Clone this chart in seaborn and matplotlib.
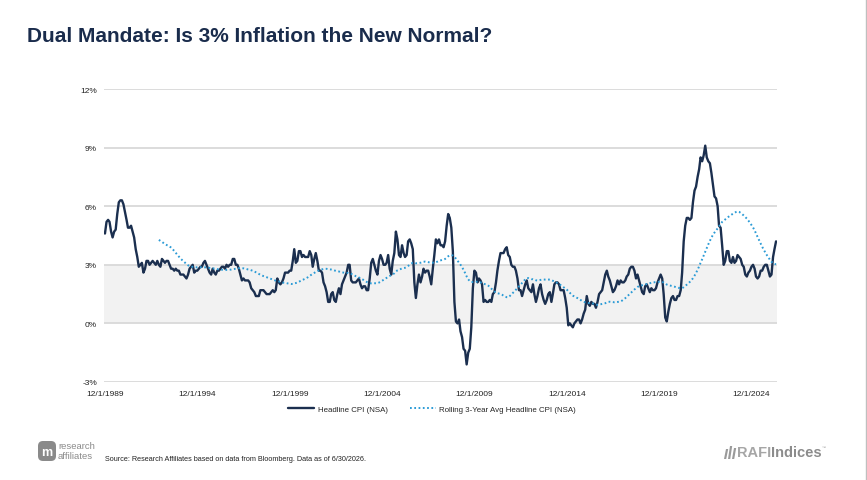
import pandas as pd
import matplotlib
matplotlib.use("Agg")
import matplotlib.pyplot as plt
from matplotlib.patches import FancyBboxPatch, Polygon
import seaborn as sns

# monthly headline CPI YoY (%), starting 12/1989
start_month = "1989-12-01"
cpi_1989 = [4.6]
cpi_1990s = [
    5.2, 5.3, 5.2, 4.7, 4.4, 4.7, 4.8, 5.6, 6.2, 6.3, 6.3, 6.1,  # 1990
    5.7, 5.3, 4.9, 4.9, 5.0, 4.7, 4.4, 3.8, 3.4, 2.9, 3.0, 3.1,  # 1991
    2.6, 2.8, 3.2, 3.2, 3.0, 3.1, 3.2, 3.1, 3.0, 3.2, 3.0, 2.9,  # 1992
    3.3, 3.2, 3.1, 3.2, 3.2, 3.0, 2.8, 2.8, 2.7, 2.8, 2.7, 2.7,  # 1993
    2.5, 2.5, 2.5, 2.4, 2.3, 2.5, 2.8, 2.9, 3.0, 2.6, 2.7, 2.7,  # 1994
    2.8, 2.9, 2.9, 3.1, 3.2, 3.0, 2.8, 2.6, 2.5, 2.8, 2.6, 2.5,  # 1995
    2.7, 2.7, 2.8, 2.9, 2.9, 2.8, 3.0, 2.9, 3.0, 3.0, 3.3, 3.3,  # 1996
    3.0, 3.0, 2.8, 2.5, 2.2, 2.3, 2.2, 2.2, 2.2, 2.1, 1.8, 1.7,  # 1997
    1.6, 1.4, 1.4, 1.4, 1.7, 1.7, 1.7, 1.6, 1.5, 1.5, 1.5, 1.6,  # 1998
    1.7, 1.6, 1.7, 2.3, 2.1, 2.0, 2.1, 2.3, 2.6, 2.6, 2.6, 2.7,  # 1999
]
cpi_2000s = [
    2.7, 3.2, 3.8, 3.1, 3.2, 3.7, 3.7, 3.4, 3.5, 3.4, 3.4, 3.4,  # 2000
    3.7, 3.5, 2.9, 3.3, 3.6, 3.2, 2.7, 2.7, 2.6, 2.1, 1.9, 1.6,  # 2001
    1.1, 1.1, 1.5, 1.6, 1.2, 1.1, 1.5, 1.8, 1.5, 2.0, 2.2, 2.4,  # 2002
    2.6, 3.0, 3.0, 2.2, 2.1, 2.1, 2.1, 2.2, 2.3, 2.0, 1.8, 1.9,  # 2003
    1.9, 1.7, 1.7, 2.3, 3.1, 3.3, 3.0, 2.7, 2.5, 3.2, 3.5, 3.3,  # 2004
    3.0, 3.0, 3.1, 3.5, 2.8, 2.5, 3.2, 3.6, 4.7, 4.3, 3.5, 3.4,  # 2005
    4.0, 3.6, 3.4, 3.5, 4.2, 4.3, 4.1, 3.8, 2.1, 1.3, 2.0, 2.5,  # 2006
    2.1, 2.4, 2.8, 2.6, 2.7, 2.7, 2.4, 2.0, 2.8, 3.5, 4.3, 4.1,  # 2007
    4.3, 4.0, 4.0, 3.9, 4.2, 5.0, 5.6, 5.4, 4.9, 3.7, 1.1, 0.1,  # 2008
    0.0, 0.2, -0.4, -0.7, -1.3, -1.4, -2.1, -1.5, -1.3, -0.2, 1.8, 2.7,  # 2009
]
cpi_2010s = [
    2.6, 2.1, 2.3, 2.2, 2.0, 1.1, 1.2, 1.1, 1.1, 1.2, 1.1, 1.5,  # 2010
    1.6, 2.1, 2.7, 3.2, 3.6, 3.6, 3.6, 3.8, 3.9, 3.5, 3.4, 3.0,  # 2011
    2.9, 2.9, 2.7, 2.3, 1.7, 1.7, 1.4, 1.7, 2.0, 2.2, 1.8, 1.7,  # 2012
    1.6, 2.0, 1.5, 1.1, 1.4, 1.8, 2.0, 1.5, 1.2, 1.0, 1.2, 1.5,  # 2013
    1.6, 1.1, 1.5, 2.0, 2.1, 2.1, 2.0, 1.7, 1.7, 1.7, 1.3, 0.8,  # 2014
    -0.1, 0.0, -0.1, -0.2, 0.0, 0.1, 0.2, 0.2, 0.0, 0.2, 0.5, 0.7,  # 2015
    1.4, 1.0, 0.9, 1.1, 1.0, 1.0, 0.8, 1.1, 1.5, 1.6, 1.7, 2.1,  # 2016
    2.5, 2.7, 2.4, 2.2, 1.9, 1.6, 1.7, 1.9, 2.2, 2.0, 2.2, 2.1,  # 2017
    2.1, 2.2, 2.4, 2.5, 2.8, 2.9, 2.9, 2.7, 2.3, 2.5, 2.2, 1.9,  # 2018
    1.6, 1.5, 1.9, 2.0, 1.8, 1.6, 1.8, 1.7, 1.7, 1.8, 2.1, 2.3,  # 2019
]
cpi_2020s = [
    2.5, 2.3, 1.5, 0.3, 0.1, 0.6, 1.0, 1.3, 1.4, 1.2, 1.2, 1.4,  # 2020
    1.4, 1.7, 2.6, 4.2, 5.0, 5.4, 5.4, 5.3, 5.4, 6.2, 6.8, 7.0,  # 2021
    7.5, 7.9, 8.5, 8.3, 8.6, 9.1, 8.5, 8.3, 8.2, 7.7, 7.1, 6.5,  # 2022
    6.4, 6.0, 5.0, 4.9, 4.0, 3.0, 3.2, 3.7, 3.7, 3.2, 3.1, 3.4,  # 2023
    3.1, 3.2, 3.5, 3.4, 3.3, 3.0, 2.9, 2.5, 2.4, 2.6, 2.7, 2.9,  # 2024
    3.0, 2.8, 2.4, 2.3, 2.4, 2.7, 2.7, 2.9, 3.0, 3.0, 2.7, 2.4,  # 2025
    2.5, 3.4, 3.8, 4.2,  # 2026
]

tick_dates = ["1989-12-01", "1994-12-01", "1999-12-01", "2004-12-01",
              "2009-12-01", "2014-12-01", "2019-12-01", "2024-12-01"]
tick_labels = ["12/1/1989", "12/1/1994", "12/1/1999", "12/1/2004",
               "12/1/2009", "12/1/2014", "12/1/2019", "12/1/2024"]
y_ticks = [-3, 0, 3, 6, 9, 12]
y_labels = ["-3%", "0%", "3%", "6%", "9%", "12%"]
series_names = ["Headline CPI (NSA)", "Rolling 3-Year Avg Headline CPI (NSA)"]

headline = cpi_1989 + cpi_1990s + cpi_2000s + cpi_2010s + cpi_2020s
df = pd.DataFrame({
    "date": pd.date_range(start_month, periods=len(headline), freq="MS"),
    "headline": headline,
})
df["rolling"] = df["headline"].rolling(36).mean()

sns.set_theme(style="white")
plt.rcParams["font.family"] = ["Liberation Sans", "DejaVu Sans"]

W, H = 867, 481
fig = plt.figure(figsize=(W / 100, H / 100), dpi=100)
fig.patch.set_facecolor("white")

ax = fig.add_axes([104 / W, 1 - 383 / H, (777 - 104) / W, (383 - 90) / H])
ax.set_facecolor("white")
ax.axhspan(0, 3, color="#f2f2f2", lw=0, zorder=0)
for y in y_ticks:
    ax.axhline(y, color="#d9d9d9", lw=1.3, zorder=1)

navy = "#1b2f4f"
blue = "#2b9bd6"
sns.lineplot(data=df, x="date", y="headline", ax=ax, color=navy, lw=1.7,
             label=series_names[0], zorder=3)
sns.lineplot(data=df.dropna(), x="date", y="rolling", ax=ax, color=blue, lw=1.4,
             dashes=False, label=series_names[1], zorder=3)
ax.lines[-1].set_linestyle((0, (0.9, 1.3)))
ax.lines[-1].set_dash_capstyle("butt")

ax.set_ylim(-3, 12)
ax.set_xlim(pd.Timestamp("1989-11-12"), pd.Timestamp("2026-04-20"))
ax.set_yticks(y_ticks)
ax.set_yticklabels(y_labels, fontsize=6, color="#222222")
ax.set_xticks(pd.to_datetime(tick_dates))
ax.set_xticklabels(tick_labels, fontsize=6, color="#222222")
ax.tick_params(length=0, pad=5)
ax.tick_params(axis="x", pad=6)
ax.set_xlabel("")
ax.set_ylabel("")
for s in ax.spines.values():
    s.set_visible(False)

handles, labels = ax.get_legend_handles_labels()
ax.get_legend().remove()
fig.legend(handles, labels, loc="center", bbox_to_anchor=(432 / W, 1 - 410 / H),
           ncol=2, frameon=False, fontsize=5.7, handlelength=3.3,
           columnspacing=2.8, handletextpad=0.4)

fig.text(27 / W, 1 - 42 / H, "Dual Mandate: Is 3% Inflation the New Normal?",
         fontsize=15, fontweight="bold", color="#1a2c4c", ha="left", va="baseline")

# footer overlay in pixel coordinates
ov = fig.add_axes([0, 0, 1, 1], zorder=-1)
ov.set_xlim(0, W)
ov.set_ylim(H, 0)
ov.axis("off")
ov.axvline(866, color="#bfbfbf", lw=1)

ov.add_patch(FancyBboxPatch((38, 442), 18, 20, boxstyle="round,pad=0,rounding_size=5",
                            fc="#8a8a8a", ec="none"))
ov.text(47, 453, "m", fontsize=9, fontweight="bold", color="white", ha="center", va="center")
ov.text(58, 447, "research", fontsize=6.8, color="#8a8a8a", ha="left", va="center")
ov.text(58, 457, "affiliates", fontsize=6.8, color="#8a8a8a", ha="left", va="center")
ov.text(105, 460, "Source: Research Affiliates based on data from Bloomberg. Data as of 6/30/2026.",
        fontsize=5.2, color="#222222", ha="left", va="center")

for x0, top in [(724, 450), (728, 447), (732, 449)]:
    ov.add_patch(Polygon([(x0, 460), (x0 + 2.2, 460), (x0 + 4.2, top), (x0 + 2, top)],
                         closed=True, fc="#9a9a9a", ec="none"))
rafi = ov.text(737, 453.5, "RAFI", fontsize=10.5, fontweight="bold", color="#a6a6a6",
               ha="left", va="center")
ind = ov.annotate("Indices", xy=(1, 0.5), xycoords=rafi, fontsize=10.5, fontweight="bold",
                  color="#8c8c8c", ha="left", va="center")
ov.annotate("™", xy=(1, 0.9), xycoords=ind, fontsize=3, color="#9a9a9a",
            ha="left", va="center")

fig.savefig("out.png", dpi=100)
